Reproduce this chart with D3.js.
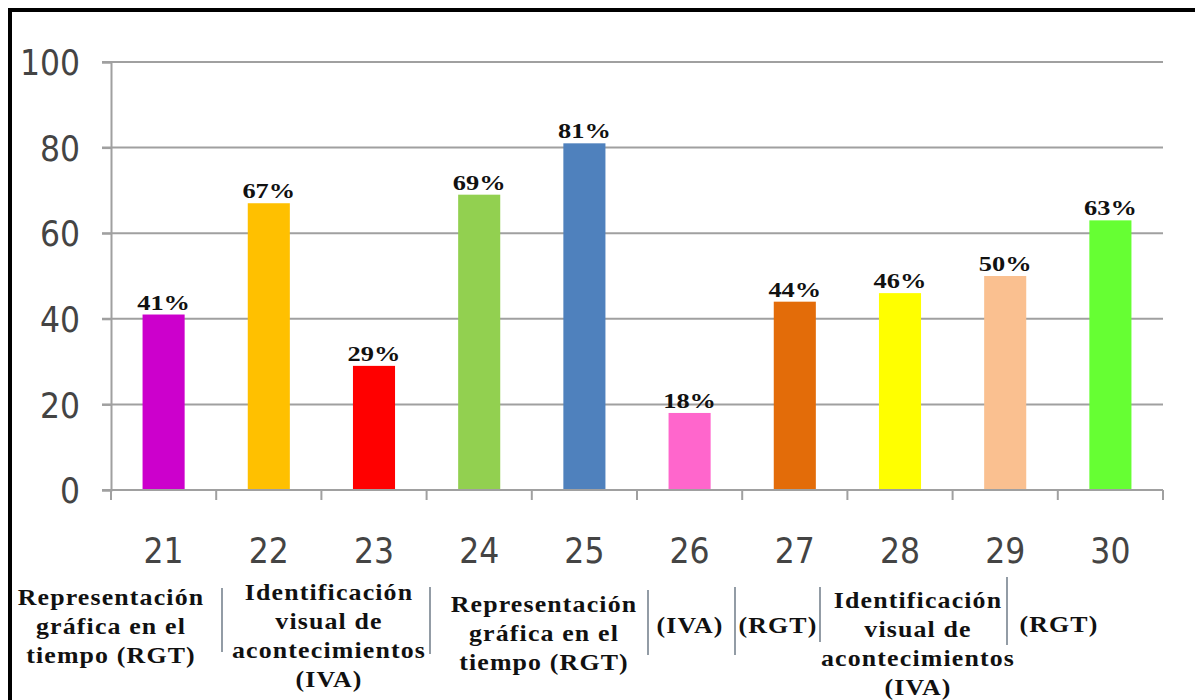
<!DOCTYPE html>
<html>
<head>
<meta charset="utf-8">
<script src="https://cdn.jsdelivr.net/npm/d3@7"></script>
<style>
  html, body { margin: 0; padding: 0; background: #ffffff; }
  svg { display: block; }
</style>
</head>
<body>
<svg id="chart" width="1195" height="700"></svg>
<script>
// Item numbers on the x axis
const categories = ["21", "22", "23", "24", "25", "26", "27", "28", "29", "30"];
// Percentage of correct answers per item
const values = [41, 67, 29, 69, 81, 18, 44, 46, 50, 63];
// One fill per item
const barColors = ["#cc00cc", "#ffc000", "#ff0000", "#92d050", "#4f81bd",
                   "#ff66cc", "#e36c09", "#ffff00", "#fac090", "#66ff33"];
// Value axis ticks
const yTicks = [0, 20, 40, 60, 80, 100];
// Skill groups written under the item numbers
const groupLabels = [
  ["Representación", "gráfica en el", "tiempo (RGT)"],
  ["Identificación", "visual de", "acontecimientos", "(IVA)"],
  ["Representación", "gráfica en el", "tiempo (RGT)"],
  ["(IVA)"],
  ["(RGT)"],
  ["Identificación", "visual de", "acontecimientos", "(IVA)"],
  ["(RGT)"]
];

// Placement of the group captions and the thin dividers between them
const groupLayout = [
  { cx: 111, y: 605 }, { cx: 329, y: 600 }, { cx: 544, y: 612 },
  { cx: 690, y: 633 }, { cx: 778, y: 633 }, { cx: 918, y: 608 },
  { cx: 1059, y: 632 }
];
const dividerLayout = [
  { x: 222, y1: 588, y2: 652 }, { x: 430, y1: 587, y2: 654 },
  { x: 648, y1: 590, y2: 655 }, { x: 735, y1: 587, y2: 655 },
  { x: 820, y1: 587, y2: 642 }, { x: 1007, y1: 577, y2: 645 }
];

const svg = d3.select("#chart");

const plot = { left: 111, right: 1163, top: 62, bottom: 490 };

const x = d3.scaleBand()
  .domain(categories)
  .range([plot.left, plot.right])
  .paddingInner(0.6)
  .paddingOuter(0.3);

const y = d3.scaleLinear()
  .domain([0, 100])
  .range([plot.bottom, plot.top]);

const numFont = '"Liberation Sans Narrow", "DejaVu Sans Condensed", "Open Sans", sans-serif';
const serifFont = '"Liberation Serif", "Times New Roman", serif';

// Frame around the figure
svg.append("rect")
  .attr("x", 10).attr("y", 10)
  .attr("width", 1220).attr("height", 720)
  .attr("fill", "none")
  .attr("stroke", "#000")
  .attr("stroke-width", 4);

// Horizontal gridlines
svg.append("g")
  .selectAll("line")
  .data(yTicks.filter(d => d > 0))
  .join("line")
  .attr("x1", plot.left - 9)
  .attr("x2", plot.right)
  .attr("y1", d => y(d))
  .attr("y2", d => y(d))
  .attr("stroke", "#a0a0a0")
  .attr("stroke-width", 2);

// Value axis
const yAxis = svg.append("g")
  .attr("transform", `translate(${plot.left},0)`)
  .call(d3.axisLeft(y).tickValues(yTicks).tickSize(9).tickPadding(22));
yAxis.select(".domain").attr("stroke", "#a0a0a0").attr("stroke-width", 2);
yAxis.selectAll(".tick line").attr("stroke", "#a0a0a0").attr("stroke-width", 2);
yAxis.selectAll(".tick text")
  .attr("font-family", numFont)
  .attr("font-size", 35)
  .attr("fill", "#444")
  .attr("dy", "0.36em");

// Bars
svg.append("g")
  .selectAll("rect")
  .data(categories)
  .join("rect")
  .attr("x", d => x(d))
  .attr("width", x.bandwidth())
  .attr("y", (d, i) => y(values[i]))
  .attr("height", (d, i) => y(0) - y(values[i]))
  .attr("fill", (d, i) => barColors[i]);

// Category axis: line, boundary ticks and item numbers
svg.append("line")
  .attr("x1", plot.left - 9).attr("x2", plot.right)
  .attr("y1", plot.bottom).attr("y2", plot.bottom)
  .attr("stroke", "#a0a0a0").attr("stroke-width", 2);

svg.append("g")
  .selectAll("line")
  .data(d3.range(categories.length + 1))
  .join("line")
  .attr("x1", i => plot.left + i * x.step())
  .attr("x2", i => plot.left + i * x.step())
  .attr("y1", plot.bottom)
  .attr("y2", plot.bottom + 10)
  .attr("stroke", "#a0a0a0")
  .attr("stroke-width", 2);

const xAxis = svg.append("g")
  .attr("transform", `translate(0,${plot.bottom})`)
  .call(d3.axisBottom(x).tickSize(0).tickPadding(48));
xAxis.select(".domain").remove();
xAxis.selectAll(".tick text")
  .attr("font-family", numFont)
  .attr("font-size", 35)
  .attr("fill", "#444");

// Percentage labels over the bars
svg.append("g")
  .selectAll("text")
  .data(categories)
  .join("text")
  .attr("transform", (d, i) =>
    `translate(${x(d) + x.bandwidth() / 2},${y(values[i]) - 5}) scale(1.2,1)`)
  .attr("text-anchor", "middle")
  .attr("font-family", serifFont)
  .attr("font-weight", "bold")
  .attr("font-size", 22)
  .attr("fill", "#111")
  .text((d, i) => values[i] + "%");

// Skill group captions
const groups = svg.append("g")
  .selectAll("g")
  .data(groupLabels)
  .join("g")
  .attr("transform", (d, i) =>
    `translate(${groupLayout[i].cx},${groupLayout[i].y}) scale(1.15,1)`);

groups.selectAll("text")
  .data(d => d)
  .join("text")
  .attr("x", 0)
  .attr("y", (d, i) => i * 29)
  .attr("text-anchor", "middle")
  .attr("font-family", serifFont)
  .attr("font-weight", "bold")
  .attr("font-size", 22.5)
  .attr("letter-spacing", 1)
  .attr("fill", "#111")
  .text(d => d);

// Dividers between the captions
svg.append("g")
  .selectAll("line")
  .data(dividerLayout)
  .join("line")
  .attr("x1", d => d.x).attr("x2", d => d.x)
  .attr("y1", d => d.y1).attr("y2", d => d.y2)
  .attr("stroke", "#4a5a6a")
  .attr("stroke-width", 1.2);
</script>
</body>
</html>
